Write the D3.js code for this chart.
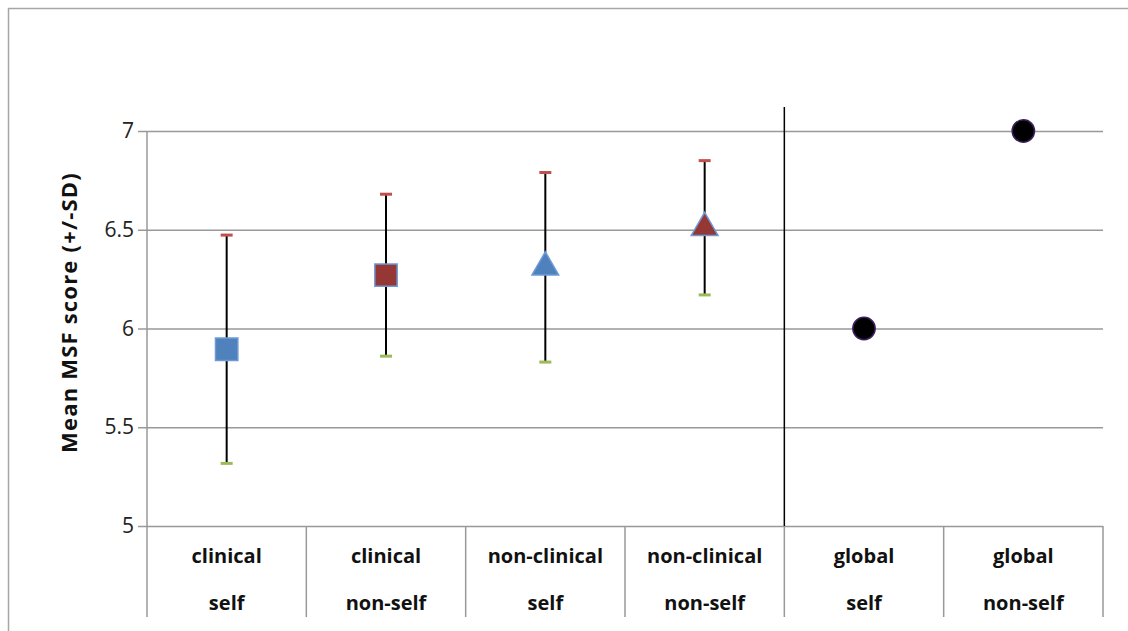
<!DOCTYPE html>
<html>
<head>
<meta charset="utf-8">
<script src="https://cdn.jsdelivr.net/npm/d3@7"></script>
<style>
  body { margin: 0; background: #fff; }
  svg { display: block; font-family: "Open Sans", Lato, sans-serif; }
</style>
</head>
<body>
<svg id="chart" width="1128" height="631"></svg>
<script>
// data
const groups = ["clinical self", "clinical non-self", "non-clinical self", "non-clinical non-self", "global self", "global non-self"];
const labelTop = ["clinical", "clinical", "non-clinical", "non-clinical", "global", "global"];
const labelBottom = ["self", "non-self", "self", "non-self", "self", "non-self"];
const means = [5.895, 6.27, 6.31, 6.51, 6.0, 7.0];
const sds = [0.578, 0.41, 0.48, 0.34, null, null];
const shapes = ["square", "square", "triangle", "triangle", "circle", "circle"];
const fills = ["#4F81BD", "#953735", "#4F81BD", "#953735", "#000000", "#000000"];
const yTicks = [5, 5.5, 6, 6.5, 7];

const svg = d3.select("#chart");
const plotLeft = 147, plotRight = 1103, plotTop = 131, plotBottom = 526;

let x = d3.scaleBand().domain(groups).range([plotLeft, plotRight]);
let y = d3.scaleLinear().domain([5, 7]).range([plotBottom, plotTop]);

// outer frame
svg.append("rect")
  .attr("x", 8.5).attr("y", 8.5)
  .attr("width", 1128).attr("height", 640)
  .attr("fill", "none")
  .attr("stroke", "#a6a6a6")
  .attr("stroke-width", 1.5);

// gridlines + y axis
let yAxis = d3.axisLeft(y)
  .tickValues(yTicks)
  .tickSize(-(plotRight - plotLeft))
  .tickPadding(13)
  .tickFormat(d => d3.format("")(d));

let yg = svg.append("g")
  .attr("transform", `translate(${plotLeft},0)`)
  .call(yAxis);
yg.select(".domain").remove();
yg.selectAll(".tick line")
  .attr("x1", -9)
  .attr("stroke", "#999")
  .attr("stroke-width", 1.5);
yg.selectAll(".tick text")
  .attr("font-size", 21)
  .attr("fill", "#222")
  .attr("font-family", "'Open Sans', sans-serif");

// left axis line running down through the label area
svg.append("line")
  .attr("x1", plotLeft).attr("x2", plotLeft)
  .attr("y1", plotTop).attr("y2", 617)
  .attr("stroke", "#999")
  .attr("stroke-width", 1.5);

// category dividers below the plot
svg.selectAll(".divider")
  .data(groups.slice(1).concat(["end"]))
  .enter().append("line")
  .attr("class", "divider")
  .attr("x1", (d, i) => plotLeft + x.bandwidth() * (i + 1))
  .attr("x2", (d, i) => plotLeft + x.bandwidth() * (i + 1))
  .attr("y1", plotBottom)
  .attr("y2", 617)
  .attr("stroke", "#999")
  .attr("stroke-width", 1.5);

// black separator between the groups and the global scores
svg.append("line")
  .attr("x1", x(groups[4])).attr("x2", x(groups[4]))
  .attr("y1", plotTop - 24).attr("y2", plotBottom)
  .attr("stroke", "#000")
  .attr("stroke-width", 1.5);

// category labels
let cat = svg.append("g").selectAll("g")
  .data(groups)
  .enter().append("g")
  .attr("transform", d => `translate(${x(d) + x.bandwidth() / 2},0)`);
cat.append("text")
  .attr("y", 563)
  .attr("text-anchor", "middle")
  .attr("font-size", 20)
  .attr("font-weight", "bold")
  .attr("fill", "#111")
  .text((d, i) => labelTop[i]);
cat.append("text")
  .attr("y", 610)
  .attr("text-anchor", "middle")
  .attr("font-size", 20)
  .attr("font-weight", "bold")
  .attr("fill", "#111")
  .text((d, i) => labelBottom[i]);

// y axis title
svg.append("text")
  .attr("transform", `translate(77,${(plotTop + plotBottom) / 2 - 16}) rotate(-90)`)
  .attr("text-anchor", "middle")
  .attr("font-size", 22)
  .attr("font-weight", "bold")
  .attr("letter-spacing", 1.2)
  .attr("fill", "#111")
  .text("Mean MSF score (+/-SD)");

// error bars
let points = groups.map((g, i) => ({ g: g, mean: means[i], sd: sds[i], shape: shapes[i], fill: fills[i] }));
let err = svg.append("g").selectAll("g")
  .data(points.filter(d => d.sd != null))
  .enter().append("g")
  .attr("transform", d => `translate(${x(d.g) + x.bandwidth() / 2},0)`);
err.append("line")
  .attr("y1", d => y(d.mean + d.sd))
  .attr("y2", d => y(d.mean - d.sd))
  .attr("stroke", "#000")
  .attr("stroke-width", 2);
err.append("line")
  .attr("x1", -6).attr("x2", 6)
  .attr("y1", d => y(d.mean + d.sd))
  .attr("y2", d => y(d.mean + d.sd))
  .attr("stroke", "#C0504D")
  .attr("stroke-width", 3);
err.append("line")
  .attr("x1", -6).attr("x2", 6)
  .attr("y1", d => y(d.mean - d.sd))
  .attr("y2", d => y(d.mean - d.sd))
  .attr("stroke", "#9BBB59")
  .attr("stroke-width", 3);

// markers
let symbolType = { square: d3.symbolSquare, triangle: d3.symbolTriangle, circle: d3.symbolCircle };
let symbolSize = { square: 500, triangle: 310, circle: 390 };
svg.append("g").selectAll("path")
  .data(points)
  .enter().append("path")
  .attr("transform", d => `translate(${x(d.g) + x.bandwidth() / 2},${y(d.mean)})`)
  .attr("d", d => d3.symbol(symbolType[d.shape], symbolSize[d.shape])())
  .attr("fill", d => d.fill)
  .attr("stroke", d => d.shape == "circle" ? "#3b1f5c" : "#6f9ad6")
  .attr("stroke-width", 1.5);
</script>
</body>
</html>
